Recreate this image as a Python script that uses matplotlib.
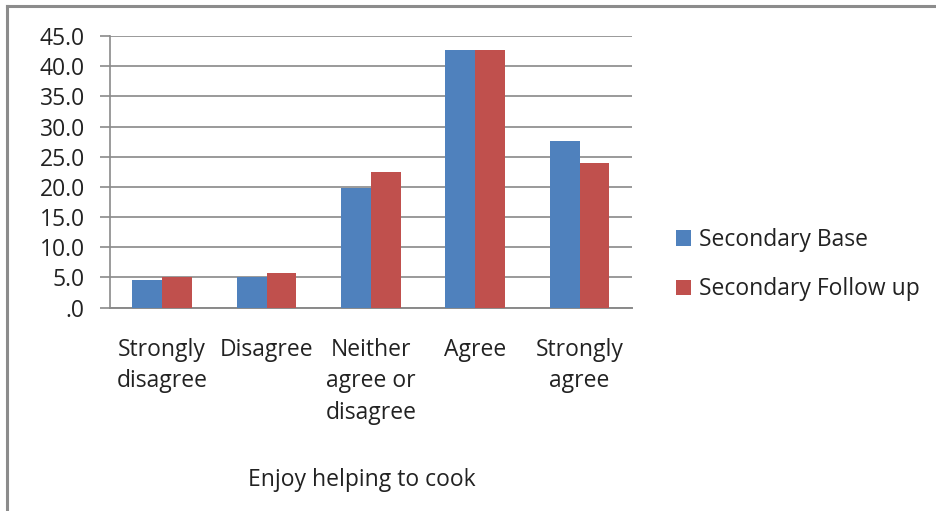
import numpy as np
import matplotlib.pyplot as plt
from matplotlib.lines import Line2D

plt.rcParams['font.family'] = ['Open Sans', 'DejaVu Sans']

categories = ['Strongly\ndisagree', 'Disagree', 'Neither\nagree or\ndisagree', 'Agree', 'Strongly\nagree']
base = [4.5, 5.0, 19.8, 42.7, 27.6]
follow_up = [5.0, 5.7, 22.5, 42.7, 24.0]
series_names = ['Secondary Base', 'Secondary Follow up']
colors = ['#4F81BD', '#C0504D']
yticks = [0, 5, 10, 15, 20, 25, 30, 35, 40, 45]
ytick_labels = ['.0', '5.0', '10.0', '15.0', '20.0', '25.0', '30.0', '35.0', '40.0', '45.0']

fs = 16.5

fig = plt.figure(figsize=(9.36, 5.11), dpi=100)
ax = fig.add_axes([0.1175, 0.398, 0.5575, 0.5315])

x = np.arange(len(categories))
w = 1 / 3.5
ax.bar(x - w / 2, base, w, color=colors[0], label=series_names[0], zorder=3)
ax.bar(x + w / 2, follow_up, w, color=colors[1], label=series_names[1], zorder=3)

ax.set_xlim(-0.5, len(categories) - 0.5)
ax.set_ylim(0, 45)
ax.set_yticks(yticks)
ax.set_yticklabels(ytick_labels)
ax.yaxis.grid(True, color='#9a9a9a', linewidth=1.4, zorder=0)
ax.set_xticks(x)
ax.set_xticklabels(categories, linespacing=1.4)

for s in ['top', 'right']:
    ax.spines[s].set_visible(False)
ax.spines['left'].set_color('#8a8a8a')
ax.spines['bottom'].set_color('#8a8a8a')
ax.spines['left'].set_linewidth(1.2)
ax.spines['bottom'].set_linewidth(1.4)

ax.tick_params(axis='y', length=7.2, width=1.2, color='#8a8a8a', pad=11, labelsize=fs, labelcolor='#222222')
ax.tick_params(axis='x', length=0, pad=22, labelsize=fs, labelcolor='#222222')

fig.text(0.387, 0.06, 'Enjoy helping to cook', ha='center', va='center', fontsize=fs, color='#222222')

leg = fig.legend(loc='center left', bbox_to_anchor=(0.70, 0.482), frameon=False,
                 fontsize=fs, handlelength=0.65, handleheight=0.65, handletextpad=0.35,
                 labelspacing=1.1, labelcolor='#222222')

# outer chart border (only top and left visible)
fig.add_artist(Line2D([7 / 936, 7 / 936], [0, 1 - 6 / 511], transform=fig.transFigure,
                      color='#8c8c8c', linewidth=2.2))
fig.add_artist(Line2D([7 / 936, 1], [1 - 6 / 511, 1 - 6 / 511], transform=fig.transFigure,
                      color='#8c8c8c', linewidth=2.2))

fig.savefig('out.png', dpi=100)
